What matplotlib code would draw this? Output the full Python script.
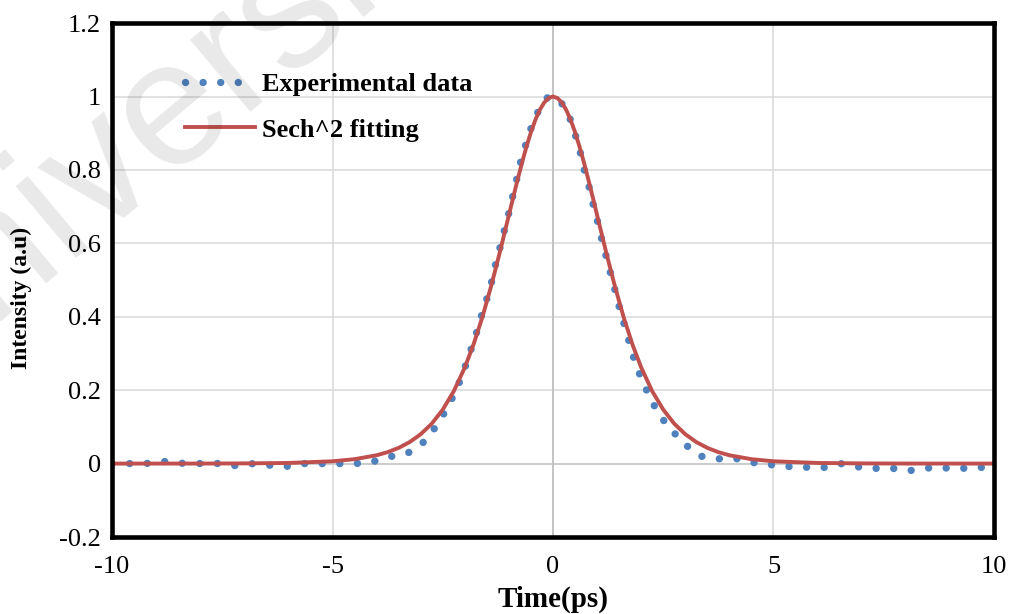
import matplotlib
matplotlib.use("Agg")
import matplotlib.pyplot as plt
from matplotlib.lines import Line2D

# experimental autocorrelation trace
time_exp = [-10, -9.65, -9.24, -8.85, -8.44, -8.06, -7.65, -7.26, -6.86, -6.47,
            -6.06, -5.68, -5.27, -4.88, -4.47, -4.09, -3.69, -3.30, -2.97, -2.72,
            -2.50, -2.31, -2.14, -2.00, -1.87, -1.74, -1.63, -1.51, -1.40, -1.31,
            -1.21, -1.11, -1.01, -0.92, -0.83, -0.74, -0.63, -0.51, -0.36, -0.14,
            0.0, 0.18, 0.37, 0.50, 0.61, 0.70, 0.81, 0.90, 1.00, 1.09,
            1.19, 1.29, 1.39, 1.49, 1.60, 1.71, 1.82, 1.95, 2.11, 2.29,
            2.50, 2.76, 3.04, 3.36, 3.74, 4.14, 4.53, 4.93, 5.33, 5.73,
            6.13, 6.52, 6.92, 7.31, 7.70, 8.10, 8.50, 8.89, 9.29, 9.69, 10.0]
intensity_exp = [0, 0, 0, 0.006, 0.001, 0, 0.001, -0.006, 0, -0.004,
                 -0.008, 0, 0, 0, 0, 0.005, 0.019, 0.028, 0.054, 0.090,
                 0.131, 0.172, 0.216, 0.261, 0.307, 0.354, 0.400, 0.445, 0.491, 0.539,
                 0.585, 0.632, 0.678, 0.725, 0.771, 0.819, 0.864, 0.910, 0.954, 0.996,
                 1.0, 0.985, 0.945, 0.898, 0.852, 0.804, 0.758, 0.711, 0.665, 0.618,
                 0.572, 0.525, 0.480, 0.432, 0.385, 0.339, 0.292, 0.248, 0.203, 0.159,
                 0.119, 0.082, 0.048, 0.020, 0.013, 0.014, 0.003, -0.003, -0.008, -0.010,
                 -0.011, 0.000, -0.009, -0.013, -0.013, -0.019, -0.012, -0.012, -0.013, -0.010, -0.016]

# sech^2 fit curve
time_fit = [-10, -8, -7, -6, -5, -4.5, -4, -3.75, -3.5, -3.25, -3, -2.75, -2.5, -2.25,
            -2, -1.8, -1.6, -1.4, -1.2, -1, -0.9, -0.8, -0.7, -0.6, -0.5, -0.4, -0.3,
            -0.2, -0.1, 0,
            0.1, 0.2, 0.3, 0.4, 0.5, 0.6, 0.7, 0.8, 0.9, 1, 1.2, 1.4, 1.6, 1.8,
            2, 2.25, 2.5, 2.75, 3, 3.25, 3.5, 3.75, 4, 4.5, 5, 6, 7, 8, 10]
intensity_fit = [0.0, 0.0001, 0.0005, 0.0017, 0.0063, 0.0120, 0.0227, 0.0312, 0.0428, 0.0586,
                 0.0800, 0.1087, 0.1470, 0.1972,
                 0.2618, 0.3252, 0.3996, 0.4847, 0.5783, 0.6769, 0.7264, 0.7747, 0.8209, 0.8640,
                 0.9028, 0.9362, 0.9635, 0.9835, 0.9958, 1.0,
                 0.9958, 0.9835, 0.9635, 0.9362, 0.9028, 0.8640, 0.8209, 0.7747, 0.7264, 0.6769,
                 0.5783, 0.4847, 0.3996, 0.3252,
                 0.2618, 0.1972, 0.1470, 0.1087, 0.0800, 0.0586, 0.0428, 0.0312, 0.0227, 0.0120,
                 0.0063, 0.0017, 0.0005, 0.0001, 0.0]

x_ticks = [-10, -5, 0, 5, 10]
y_ticks = [-0.2, 0, 0.2, 0.4, 0.6, 0.8, 1.0, 1.2]
y_tick_labels = ["-0.2", "0", "0.2", "0.4", "0.6", "0.8", "1", "1.2"]

blue = "#4F81BD"
red = "#C0504D"
serif = ["Liberation Serif", "DejaVu Serif"]

fig = plt.figure(figsize=(10.13, 6.14), dpi=100)
ax = fig.add_axes([0.1106, 0.1254, 0.8706, 0.837])

# grid (Excel style, no tick marks)
for yv in y_ticks:
    ax.axhline(yv, color="#D9D9D9", lw=1.1, zorder=1)
for xv in x_ticks:
    ax.axvline(xv, color="#D9D9D9", lw=1.1, zorder=1)
ax.axhline(0, color="#C8C8C8", lw=1.2, zorder=1)
ax.axvline(0, color="#BFBFBF", lw=1.2, zorder=1)

dot_style = dict(color=blue, lw=5.3, linestyle=(0, (0.01, 2.38)),
                 dash_capstyle="round")
ax.plot(time_exp, intensity_exp, zorder=3, **dot_style)
ax.plot(time_fit, intensity_fit, color=red, lw=2.8, zorder=4,
        solid_joinstyle="round", solid_capstyle="butt")

ax.set_xlim(-10, 10)
ax.set_ylim(-0.2, 1.2)
ax.set_xticks(x_ticks)
ax.set_xticklabels([str(t) for t in x_ticks])
ax.set_yticks(y_ticks)
ax.set_yticklabels(y_tick_labels)
ax.tick_params(axis="x", length=0, labelsize=19, pad=14)
ax.tick_params(axis="y", length=0, labelsize=19, pad=8)
for lab in ax.get_xticklabels() + ax.get_yticklabels():
    lab.set_family(serif)

for sp in ax.spines.values():
    sp.set_linewidth(3.3)
    sp.set_color("black")
    sp.set_zorder(5)

ax.set_xlabel("Time(ps)", fontsize=21, fontweight="bold", family=serif)
ax.xaxis.set_label_coords(0.5, -0.095)
ax.set_ylabel("Intensity (a.u)", fontsize=17, fontweight="bold", family=serif)
ax.yaxis.set_label_coords(-0.091, 0.465)

handles = [Line2D([], [], **dot_style),
           Line2D([], [], color=red, lw=2.8)]
ax.legend(handles, ["Experimental data", "Sech^2 fitting"], loc="upper left",
          bbox_to_anchor=(0.083, 0.903), frameon=False, borderpad=0, borderaxespad=0,
          handlelength=2.65, handletextpad=0.25, labelspacing=0.82,
          prop=dict(family=serif, weight="bold", size=19))

# faint watermark in the background
fig.text(-0.108, 0.345, "University", rotation=40, rotation_mode="anchor",
         ha="left", va="baseline", fontsize=128, color="black", alpha=0.09,
         family=["Liberation Sans", "DejaVu Sans"], zorder=10)

fig.savefig("out.png", dpi=100)
